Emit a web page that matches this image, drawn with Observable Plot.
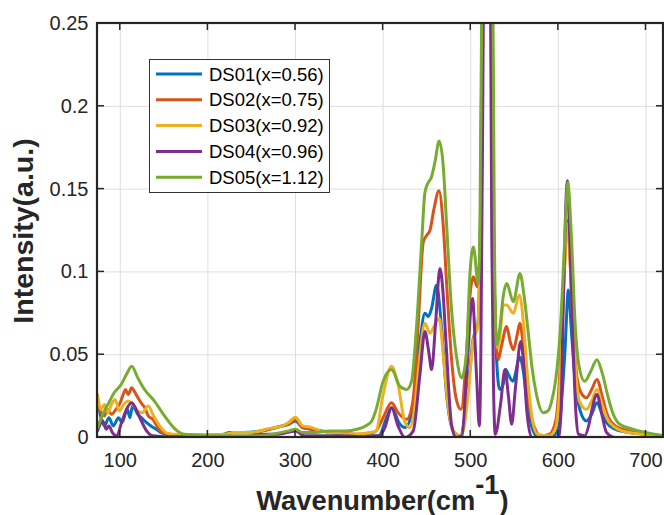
<!DOCTYPE html>
<html>
<head>
<meta charset="utf-8">
<script src="https://cdn.jsdelivr.net/npm/d3@7"></script>
<script src="https://cdn.jsdelivr.net/npm/@observablehq/plot@0.6"></script>
<style>
  body { margin: 0; background: #fff; }
  #chart { position: relative; width: 664px; height: 515px; }
</style>
</head>
<body>
<div id="chart"></div>
<script>
// ---- Data ----
const seriesNames = ["DS01(x=0.56)", "DS02(x=0.75)", "DS03(x=0.92)", "DS04(x=0.96)", "DS05(x=1.12)"];
const seriesColors = ["#0072BD", "#D95319", "#EDB120", "#7E2F8E", "#77AC30"];

const ds01Wn = [74,78,82,87,92,98,102,108,111,114,117,120,124,130,135,141,148,155,165,180,200,215,225,240,255,270,285,292,300,308,318,328,340,360,380,395,404,410,418,425,434,442,447.7,451.5,455.3,461,466.7,472.4,480,488,495,503,508,511,513,515,519,523,524.6,526,528,531,533,537,540,543,548,556,560,564,570,575,590,598,602,607.6,611.4,615,619,625,632,638,644,650,655,665,680,700,720];
const ds01I  = [0.023,0.012,0.007,0.012,0.007,0.012,0.009,0.017,0.012,0.019,0.017,0.014,0.012,0.009,0.007,0.005,0.0026,0.0015,0.001,0.001,0.001,0.0015,0.003,0.003,0.0035,0.005,0.007,0.008,0.010,0.006,0.005,0.004,0.003,0.002,0.001,0.001,0.012,0.018,0.009,0.006,0.018,0.058,0.075,0.073,0.078,0.092,0.066,0.026,0.004,0.001,0.02,0.06,0.068,0.13,0.25,0.55,1.0,0.55,0.25,0.13,0.07,0.035,0.029,0.032,0.041,0.038,0.034,0.0485,0.04,0.022,0.006,0.001,0,0.003,0.012,0.053,0.089,0.063,0.035,0.016,0.010,0.014,0.021,0.014,0.009,0.005,0.003,0.002,0.001];

const ds02Wn = [74,78,82,85,90,95,100,104,106,109,113,116,119,125,128,132,137,143,148,155,170,200,220,230,250,270,285,292,300,308,319,330,345,370,388,392,400,409.6,417,427,434,440,445.8,449.6,453.4,458,463.7,468.6,473,478,484,489,494.5,499,503,507.5,510.5,512,513.2,515,519,523,524.6,526,528,531.4,535,541,545,548.6,553,556,560,564,571.4,580,590,597,602,606,610.3,614,617,622,627,632,638,644,650,655,665,680,700,720];
const ds02I  = [0.022,0.015,0.013,0.017,0.014,0.017,0.021,0.027,0.029,0.026,0.030,0.028,0.025,0.020,0.018,0.013,0.011,0.006,0.003,0.002,0.0015,0.0015,0.002,0.003,0.003,0.005,0.007,0.008,0.011,0.006,0.005,0.004,0.003,0.002,0.003,0.004,0.012,0.021,0.015,0.011,0.022,0.068,0.118,0.122,0.125,0.138,0.149,0.128,0.088,0.048,0.022,0.017,0.045,0.085,0.097,0.091,0.097,0.15,0.25,0.55,1.0,0.55,0.25,0.13,0.07,0.047,0.055,0.067,0.058,0.053,0.062,0.069,0.055,0.032,0.008,0.001,0.002,0.010,0.042,0.09,0.131,0.1,0.063,0.034,0.026,0.024,0.029,0.035,0.025,0.015,0.007,0.004,0.002,0.001];

const ds03Wn = [74,78,82,86,90,94,99,104,109,114,120,125,132,138,145,152,160,200,220,230,250,270,285,292,300,308,319,328,340,370,385,392,400,409.6,417,425,430.5,436,442,447.7,453.4,459,464,468.6,474.4,480,487,491.5,497,503,508,511,513,515,519,523,524.6,526,528,531,534,537,541,548.6,555.4,560,564,570,576,590,597,602,606,610,614,618,624,632,638,644,650,656,665,680,700,720];
const ds03I  = [0.026,0.017,0.020,0.015,0.020,0.023,0.016,0.020,0.022,0.020,0.016,0.015,0.019,0.013,0.007,0.003,0.002,0.0015,0.002,0.003,0.003,0.0055,0.007,0.009,0.0123,0.007,0.006,0.004,0.003,0.002,0.003,0.004,0.026,0.043,0.032,0.009,0.006,0.018,0.05,0.069,0.063,0.068,0.072,0.05,0.018,0.004,0.001,0.004,0.026,0.059,0.067,0.13,0.25,0.55,1.0,0.55,0.25,0.13,0.07,0.054,0.065,0.080,0.080,0.075,0.086,0.07,0.042,0.012,0.002,0.001,0.006,0.035,0.09,0.129,0.1,0.055,0.022,0.017,0.022,0.029,0.02,0.011,0.006,0.003,0.002,0.001];

const ds04Wn = [74,80,84,87,91,96,102,108,113,118,124,130,137,150,200,240,262,280,300,310,350,380,395,402,409.6,417,425,434.4,442,447.7,452,455.3,460,464.8,468,471.7,478,483,490,495,502,506.7,509.8,511.5,513,514.3,516,519,521,522.7,524,526,528,534,539,543,546.7,551,557,561,564,569.6,600,603,605.7,610.3,613,616.4,620,623,630,635,638,644,649.6,655,665,720];
const ds04I  = [0.004,0.010,0.005,0.007,0.003,0.001,0.010,0.018,0.021,0.017,0.010,0.004,0.001,0.0005,0.0005,0.0005,0.002,0.002,0.004,0.001,0.001,0.0005,0.001,0.006,0.018,0.007,0,0.004,0.038,0.064,0.052,0.041,0.07,0.102,0.09,0.058,0.008,0,0.001,0.036,0.084,0.036,0.007,0.05,0.15,0.25,0.6,1.0,0.6,0.25,0.12,0.03,0.002,0.02,0.041,0.025,0.008,0.03,0.058,0.04,0.016,0,0,0.015,0.083,0.155,0.12,0.063,0.015,0.002,0.001,0.008,0.016,0.026,0.014,0.003,0,0];

const ds05Wn = [74,80,86,93,101,107,113,120,127.7,139,150.5,162,173,185,200,250,278,292,300,308,320,340,358,370,380,387,392,400,409.6,419,427,432.5,438,444,447.7,451.5,455,459,464,468.6,472.5,478,484,489.6,495,499,503,508.6,510.5,512.4,514,519,524,525.5,527,529.5,533,537,541,548.6,556.2,561,565.7,570,575,582.9,588,592.4,597,602,607.6,610.7,615,619,624,630,637,644,650,656,662,670,685,700,720];
const ds05I  = [0.006,0.014,0.020,0.027,0.032,0.038,0.043,0.036,0.029,0.022,0.013,0.0054,0.002,0.0015,0.001,0.001,0.0025,0.004,0.005,0.003,0.003,0.004,0.004,0.005,0.007,0.010,0.017,0.034,0.041,0.031,0.029,0.034,0.066,0.118,0.148,0.154,0.157,0.166,0.179,0.164,0.128,0.078,0.048,0.036,0.05,0.098,0.115,0.093,0.13,0.25,0.5,1.0,0.5,0.25,0.12,0.056,0.065,0.085,0.093,0.082,0.099,0.085,0.063,0.042,0.026,0.015,0.016,0.022,0.035,0.063,0.123,0.154,0.12,0.07,0.042,0.034,0.04,0.047,0.039,0.026,0.015,0.008,0.005,0.003,0.001];

const xTicks = [100, 200, 300, 400, 500, 600, 700];
const yTicks = [0, 0.05, 0.1, 0.15, 0.2, 0.25];
const yTickLabels = ["0", "0.05", "0.1", "0.15", "0.2", "0.25"];
const xTitle = ["Wavenumber(cm", "-1", ")"];
const yTitle = "Intensity(a.u.)";

// ---- Build table ----
const allWn = [ds01Wn, ds02Wn, ds03Wn, ds04Wn, ds05Wn];
const allI = [ds01I, ds02I, ds03I, ds04I, ds05I];
const rows = seriesNames.flatMap((name, k) =>
  allWn[k].map((w, j) => ({series: name, w, v: allI[k][j]})));

const FONT = "'Liberation Sans', Arial, Helvetica, sans-serif";
const INK = "#262626";

const chart = Plot.plot({
  width: 664,
  height: 515,
  marginLeft: 97,
  marginRight: 1,
  marginTop: 23,
  marginBottom: 78,
  style: {fontFamily: FONT, fontSize: "20px", color: INK, background: "white", overflow: "visible"},
  x: {domain: [74, 720], label: null},
  y: {domain: [0, 0.25], label: null},
  color: {domain: seriesNames, range: seriesColors},
  marks: [
    Plot.gridX(xTicks, {stroke: "#dedede", strokeOpacity: 1, strokeWidth: 1}),
    Plot.gridY(yTicks, {stroke: "#dedede", strokeOpacity: 1, strokeWidth: 1}),
    Plot.axisX(xTicks, {tickSize: 0, tickPadding: 15, fontSize: 20, fill: INK}),
    Plot.axisY(yTicks, {tickSize: 0, tickPadding: 9, fontSize: 20, fill: INK,
      tickFormat: d => yTickLabels[yTicks.indexOf(d)]}),
    Plot.line(rows, {x: "w", y: "v", z: "series", stroke: "series",
      strokeWidth: 3, curve: "monotone-x", clip: true})
  ]
});
document.getElementById("chart").appendChild(chart);

// ---- Box, inward ticks, legend and titles (MATLAB style) ----
const sx = chart.scale("x"), sy = chart.scale("y");
const [xL, xR] = sx.range, [yB, yT] = sy.range;
const svg = d3.select(chart);
const tl = 7;
const g = svg.append("g");
const seg = (x1, y1, x2, y2, w) => g.append("line")
  .attr("x1", x1).attr("y1", y1).attr("x2", x2).attr("y2", y2)
  .attr("stroke", INK).attr("stroke-width", w);
for (const t of xTicks) {
  const px = sx.apply(t);
  seg(px, yB, px, yB - tl, 1.5);
  seg(px, yT, px, yT + tl, 1.5);
}
for (const t of yTicks) {
  const py = sy.apply(t);
  seg(xL, py, xL + tl, py, 1.5);
  seg(xR, py, xR - tl, py, 1.5);
}
g.append("rect").attr("x", xL).attr("y", yT).attr("width", xR - xL).attr("height", yB - yT)
  .attr("fill", "none").attr("stroke", INK).attr("stroke-width", 2.2);

// legend
const lg = svg.append("g");
lg.append("rect").attr("x", 149.5).attr("y", 59.5).attr("width", 180).attr("height", 133)
  .attr("fill", "white").attr("stroke", "#333").attr("stroke-width", 1);
seriesNames.forEach((name, i) => {
  const cy = 74 + i * 25.8;
  lg.append("line").attr("x1", 156).attr("x2", 202).attr("y1", cy).attr("y2", cy)
    .attr("stroke", seriesColors[i]).attr("stroke-width", 3);
  lg.append("text").attr("x", 209).attr("y", cy + 6.6).attr("fill", "#000")
    .attr("text-anchor", "start")
    .attr("font-family", FONT).attr("font-size", "18.5px").text(name);
});

// x title with raised "-1"
const xt = svg.append("text").attr("x", 382.5).attr("y", 510).attr("text-anchor", "middle")
  .attr("font-family", FONT).attr("font-size", "27.3px").attr("font-weight", "bold").attr("fill", INK);
xt.append("tspan").text(xTitle[0]);
xt.append("tspan").attr("dy", -16).text(xTitle[1]);
xt.append("tspan").attr("dy", 16).text(xTitle[2]);

// y title
svg.append("text").attr("transform", "translate(33,231) rotate(-90)").attr("text-anchor", "middle")
  .attr("font-family", FONT).attr("font-size", "28.5px").attr("font-weight", "bold").attr("fill", INK)
  .text(yTitle);
</script>
</body>
</html>
